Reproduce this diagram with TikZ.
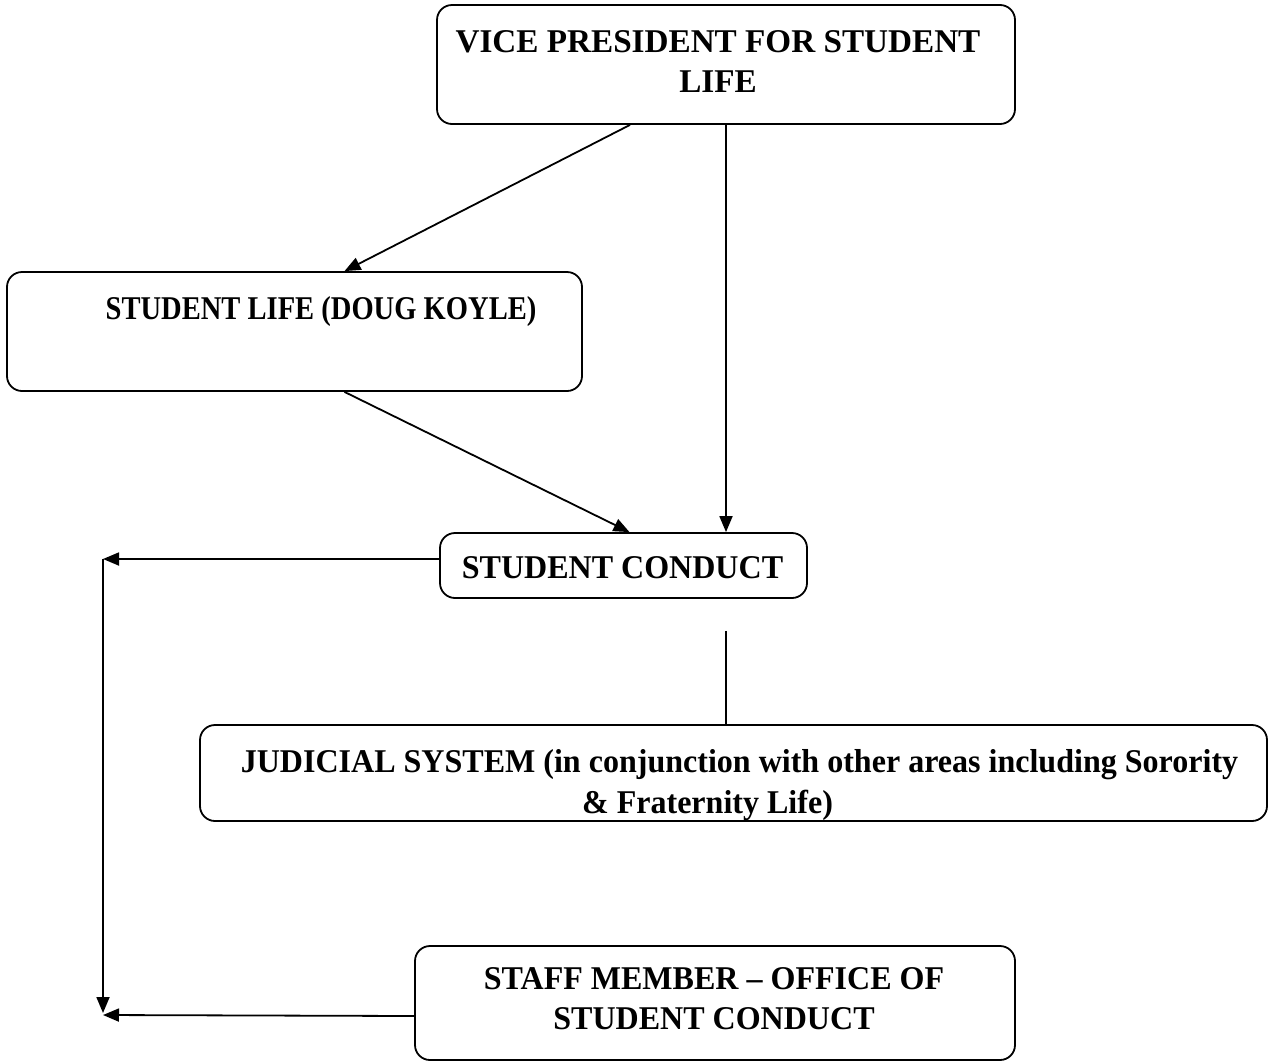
\documentclass[tikz,border=0pt]{standalone}
\usepackage{fontspec}
\setmainfont{Liberation Serif}
\newfontfamily\boxfont{Liberation Serif}[Ligatures=TeX,FakeStretch=0.965]
\newfontfamily\narrowboxfont{Liberation Serif}[Ligatures=TeX,FakeStretch=0.86]
\usetikzlibrary{arrows.meta}
\begin{document}
\begin{tikzpicture}
	[x=0.5pt,y=-0.5pt,
	 box/.style={draw,line width=0.9pt,rounded corners=7.5pt,inner sep=0pt},
	 boxtext/.style={font=\boxfont\bfseries\fontsize{16.6pt}{20pt}\selectfont,align=center,inner sep=0pt},
	 link/.style={line width=0.9pt},
	 arrow/.style={link,-{Triangle[length=8pt,width=6.5pt]}}]
\useasboundingbox (0,0) rectangle (1269,1061);
% boxes
\node[box,minimum width=289pt,minimum height=59.5pt] (vp) at (726,64.5) {};
\node[box,minimum width=287.5pt,minimum height=59.5pt] (studentlife) at (294.5,331.5) {};
\node[box,minimum width=183.5pt,minimum height=32.5pt] (conduct) at (623.5,565.5) {};
\node[box,minimum width=533.5pt,minimum height=48pt] (judicial) at (733.5,773) {};
\node[box,minimum width=300pt,minimum height=57pt] (staff) at (715,1003) {};
% texts
\node[boxtext,font=\rmfamily\bfseries\fontsize{16.6pt}{20pt}\selectfont] (vptext) at (718,62) {VICE PRESIDENT FOR STUDENT\\LIFE};
\node[boxtext,font=\narrowboxfont\bfseries\fontsize{16.6pt}{20pt}\selectfont] (studentlifetext) at (321,312) {STUDENT LIFE (DOUG KOYLE)};
\node[boxtext] (conducttext) at (622.5,568) {STUDENT CONDUCT};
\node[boxtext,font=\boxfont\bfseries\fontsize{16.6pt}{20.5pt}\selectfont] (judicialtext) at (739.5,785)
	{JUDICIAL SYSTEM (in conjunction with other areas including Sorority\\
	 \& Fraternity Life)\hspace*{32pt}};
\node[boxtext] (stafftext) at (714,999) {STAFF MEMBER – OFFICE OF\\STUDENT CONDUCT};
% connectors
\coordinate (upperleft) at (103,559);
\coordinate (lowerleft) at (103,1015);
\draw[arrow] ([xshift=-48pt]vp.south) -- ([xshift=25pt]studentlife.north);
\draw[arrow] (vp.south) -- (vp.south |- conduct.north);
\draw[arrow] ([xshift=25pt]studentlife.south) -- ([xshift=3pt]conduct.north);
\draw[arrow] ([yshift=3.25pt]conduct.west) -- (upperleft);
\draw[arrow] (upperleft) -- ([yshift=1pt]lowerleft);
\draw[arrow] ([yshift=-6.5pt]staff.west) -- (lowerleft);
\draw[link] (vp.south |- conduct.south) ++(0,32) -- (vp.south |- judicial.north);
\end{tikzpicture}
\end{document}
